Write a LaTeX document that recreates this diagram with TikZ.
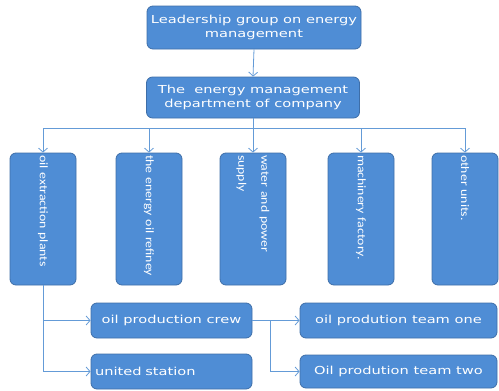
\documentclass[tikz,border=0pt]{standalone}
\usepackage{fontspec}
\setmainfont{DejaVu Sans}[FakeStretch=1.33]
\newfontfamily\colfont{Carlito}[FakeStretch=1.2]
\usetikzlibrary{arrows.meta}
\hyphenpenalty=10000
\definecolor{boxfill}{RGB}{79,141,213}
\definecolor{boxline}{RGB}{62,110,168}
\definecolor{wire}{RGB}{100,155,215}
\tikzset{
  unitbox/.style={draw=boxline, fill=boxfill, rounded corners=6pt, line width=0.8pt,
    text=white, align=center, font=\fontsize{11}{14}\selectfont},
  colbox/.style={unitbox, rotate=-90, minimum width=132pt, minimum height=66pt,
    inner xsep=2pt, text width=128pt, align=left,
    font=\colfont\fontsize{11.5}{14}\selectfont},
  teambox/.style={unitbox, minimum width=161pt, minimum height=35pt},
  link/.style={draw=wire, line width=0.8pt},
  tip/.style={link, -{Straight Barb[length=4pt,width=9pt]}}
}
\begin{document}
\begin{tikzpicture}[x=1pt, y=-1pt]
  \useasboundingbox (0,0) rectangle (499,391);

  \node[unitbox, minimum width=214pt, minimum height=43pt] (lead) at (254,27.5) {Leadership group on energy\\management};
  \node[unitbox, minimum width=213pt, minimum height=41pt] (dept) at (253,97.5) {The~ energy management\\department of company};
  \coordinate (bus) at (253,128);

  \node[colbox] (oil) at (43,219) {oil extraction plants};
  \node[colbox] (refinery) at (149,219) {the energy oil refiney};
  \node[colbox] (water) at (253,219) {water and power\\[9pt]supply};
  \node[colbox] (machine) at (361,219) {machinery factory.};
  \node[colbox] (other) at (465,219) {other units.};

  \node[teambox] (crew) at (171.5,320.5) {oil production crew};
  \node[teambox, text width=153pt, align=left] (station) at (171.5,371.5) {united station};
  \node[unitbox, minimum width=197pt, minimum height=35pt] (one) at (398.5,320.5) {oil prodution team one};
  \node[unitbox, minimum width=197pt, minimum height=33pt] (two) at (398.5,371.5) {Oil prodution team two};
  \coordinate (split) at (270,320.5);

  \draw[tip] (lead.south) -- (dept.north);
  \draw[link] (dept.south) -- (bus);
  \draw[link] (oil |- bus) -- (other |- bus);
  \foreach \u in {oil,refinery,water,machine,other}
    \draw[tip] (\u |- bus) -- (\u.west);

  \draw[link] (oil.east) -- (oil.east |- station);
  \draw[tip] (oil.east |- crew) -- (crew.west);
  \draw[tip] (oil.east |- station) -- (station.west);
  \draw[tip] (crew.east) -- (one.west);
  \draw[tip] (split) |- (two.west);
\end{tikzpicture}
\end{document}
